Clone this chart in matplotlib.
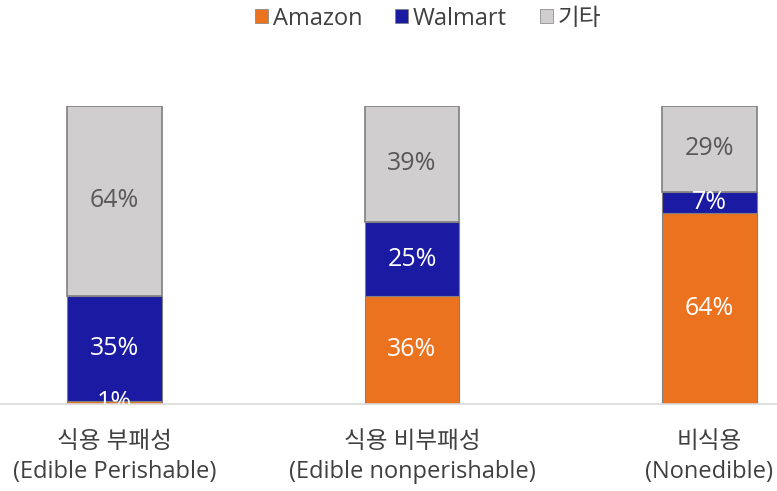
import numpy as np
import matplotlib.pyplot as plt
from matplotlib.patches import Patch

plt.rcParams['font.family'] = ['Open Sans', 'Noto Sans CJK KR', 'DejaVu Sans']

# data
categories = ["식용 부패성\n(Edible Perishable)", "식용 비부패성\n(Edible nonperishable)", "비식용\n(Nonedible)"]
amazon = [1, 36, 64]
walmart = [35, 25, 7]
other = [64, 39, 29]
series_names = ["Amazon", "Walmart", "기타"]

c_amazon = '#EB7320'
c_walmart = '#1A1AA3'
c_other = '#D0CECE'

fig = plt.figure(figsize=(7.77, 4.91), dpi=100)
ax = fig.add_axes([0.0, 0.178, 1.0, 0.607])

x = np.arange(len(categories))
w = 0.318
amazon = np.array(amazon)
walmart = np.array(walmart)
other = np.array(other)

ax.bar(x, amazon, w, color=c_amazon, edgecolor='#7F7F7F', linewidth=0.8)
ax.bar(x, walmart, w, bottom=amazon, color=c_walmart, edgecolor='#7F7F7F', linewidth=0.8)
ax.bar(x, other, w, bottom=amazon + walmart, color=c_other, edgecolor='#7F7F7F', linewidth=1.2)

# value labels
for i in x:
    if amazon[i] > 0:
        ax.text(i, amazon[i] / 2, f"{amazon[i]}%", ha='center', va='center',
                color='white', fontsize=18, clip_on=True)
    ax.text(i, amazon[i] + walmart[i] / 2, f"{walmart[i]}%", ha='center', va='center',
            color='white', fontsize=18)
    ax.text(i, amazon[i] + walmart[i] + other[i] / 2, f"{other[i]}%", ha='center', va='center',
            color='#595959', fontsize=18)

ax.set_xlim(-0.385, 2.227)
ax.set_ylim(0, 100)
for s in ['top', 'right', 'left']:
    ax.spines[s].set_visible(False)
ax.spines['bottom'].set_color('#D9D9D9')
ax.spines['bottom'].set_linewidth(1.2)
ax.set_yticks([])
ax.set_xticks(x)
ax.set_xticklabels(categories, fontsize=17, color='#404040', linespacing=1.35)
ax.tick_params(axis='x', length=0, pad=19)

handles = [Patch(facecolor=c_amazon, edgecolor='#7F7F7F', linewidth=0.5),
           Patch(facecolor=c_walmart, edgecolor='#7F7F7F', linewidth=0.5),
           Patch(facecolor=c_other, edgecolor='#7F7F7F', linewidth=0.5)]
fig.legend(handles, series_names, loc='upper center', bbox_to_anchor=(0.551, 1.03), ncol=3,
           frameon=False, fontsize=17, handlelength=0.55, handleheight=0.55,
           handletextpad=0.2, columnspacing=1.4, labelcolor='#404040')

fig.savefig("out.png", dpi=100)
